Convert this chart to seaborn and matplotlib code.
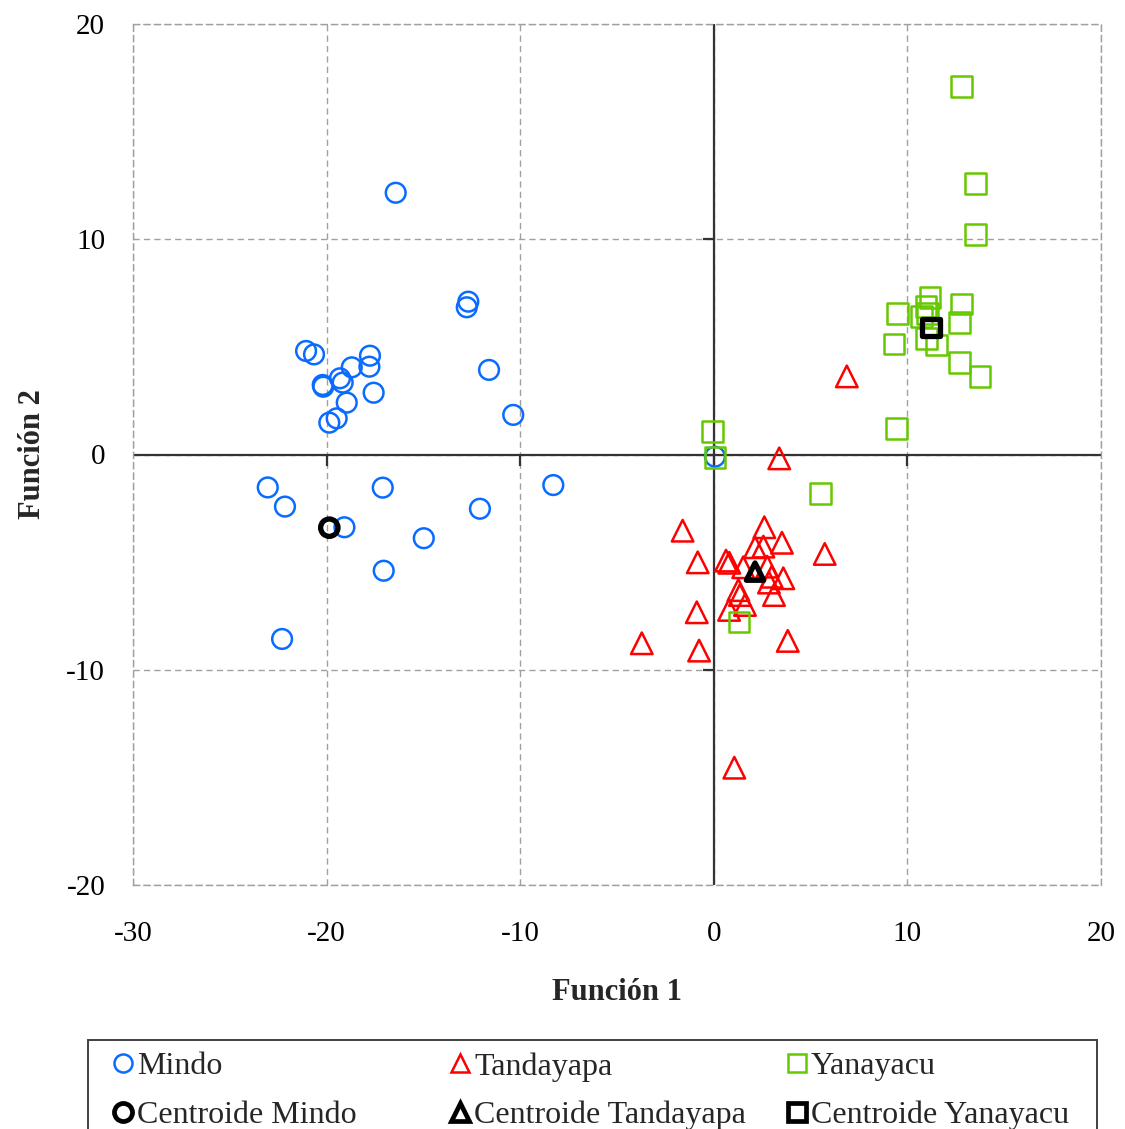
import matplotlib
matplotlib.use("Agg")
import matplotlib.pyplot as plt
from matplotlib.lines import Line2D
from matplotlib.patches import Rectangle
import seaborn as sns
import pandas as pd

# Discriminant scores (Función 1, Función 2) per locality
mindo_f1 = [-16.43, -12.68, -12.76, -21.06, -20.65, -17.76, -17.79, -18.70, -11.61,
            -19.31, -19.17, -20.20, -20.17, -17.57, -18.96, -10.36, -19.48, -19.86,
            -23.04, -22.15, -17.10, -8.29, -12.08, -19.08, -14.98, -17.05, -22.30, 0.06]
mindo_f2 = [12.16, 7.10, 6.84, 4.81, 4.65, 4.59, 4.08, 4.05, 3.93,
            3.54, 3.34, 3.23, 3.15, 2.87, 2.41, 1.84, 1.68, 1.48,
            -1.53, -2.42, -1.54, -1.42, -2.52, -3.38, -3.89, -5.40, -8.57, -0.10]

tanda_f1 = [3.38, -1.61, 2.61, 3.52, 2.13, 2.56, 5.73, -0.83, 0.63, 0.80, 1.52, 2.76,
            2.99, 3.59, 2.85, 3.11, 1.27, 1.35, 1.61, -0.88, 0.79, -3.72, -0.76, 3.82,
            1.06, 6.87]
tanda_f2 = [-0.18, -3.54, -3.38, -4.10, -4.31, -4.28, -4.62, -5.01, -4.93, -5.03, -5.24, -5.21,
            -5.68, -5.75, -5.95, -6.53, -6.30, -6.53, -6.99, -7.33, -7.22, -8.77, -9.11, -8.66,
            -14.55, 3.63]

yana_f1 = [12.80, 13.53, 13.53, 11.17, 10.96, 12.80, 9.50, 10.74, 11.03, 12.67, 9.31,
           11.00, 11.51, 12.67, 13.75, 9.45, -0.08, 0.06, 5.49, 1.30]
yana_f2 = [17.09, 12.60, 10.24, 7.30, 6.87, 6.99, 6.56, 6.43, 6.56, 6.14, 5.13,
           5.40, 5.09, 4.28, 3.62, 1.22, 1.06, -0.13, -1.80, -7.78]

centroid_names = ["Centroide Mindo", "Centroide Tandayapa", "Centroide Yanayacu"]
centroid_f1 = [-19.86, 2.13, 11.22]
centroid_f2 = [-3.40, -5.44, 5.89]

group_names = ["Mindo", "Tandayapa", "Yanayacu"]
group_colors = ["#0A6CFF", "#FF0000", "#66C800"]
group_markers = ["o", "^", "s"]

x_ticks = [-30, -20, -10, 0, 10, 20]
y_ticks = [-20, -10, 0, 10, 20]

sns.set_theme(style="white")
plt.rcParams["font.family"] = ["Liberation Serif", "DejaVu Serif"]

fig = plt.figure(figsize=(11.25, 11.29), dpi=100)
W, H = 1125.0, 1129.0
ax = fig.add_axes([133 / W, 1 - 885 / H, 968 / W, 861 / H])

groups = pd.DataFrame({
    "f1": mindo_f1 + tanda_f1 + yana_f1,
    "f2": mindo_f2 + tanda_f2 + yana_f2,
    "grupo": ["Mindo"] * len(mindo_f1) + ["Tandayapa"] * len(tanda_f1) + ["Yanayacu"] * len(yana_f1),
})
cents = pd.DataFrame({"f1": centroid_f1, "f2": centroid_f2, "grupo": centroid_names})

marker_px = {"o": 14.2, "^": 15.5, "s": 15}
for name, col, mk in zip(group_names, group_colors, group_markers):
    sub = groups[groups["grupo"] == name]
    sns.scatterplot(data=sub, x="f1", y="f2", ax=ax, marker=mk, s=marker_px[mk] ** 2,
                    color=col, facecolor="none", edgecolor=col, linewidth=1.8,
                    legend=False, zorder=3)

for i, mk in enumerate(group_markers):
    sub = cents.iloc[[i]]
    sns.scatterplot(data=sub, x="f1", y="f2", ax=ax, marker=mk, s=12.5 ** 2,
                    color="black", facecolor="none", edgecolor="black", linewidth=3.8,
                    legend=False, zorder=4)

ax.set_xlim(x_ticks[0], x_ticks[-1])
ax.set_ylim(y_ticks[0], y_ticks[-1])
ax.set_xticks(x_ticks)
ax.set_yticks(y_ticks)
ax.set_xticklabels([str(v) for v in x_ticks])
ax.set_yticklabels([str(v) for v in y_ticks])

# dashed grid and frame
ax.grid(True, linestyle=(0, (4.5, 3)), color="#A0A0A0", linewidth=1.0, zorder=0)
for sp in ax.spines.values():
    sp.set_visible(True)
    sp.set_linestyle((0, (4.5, 3)))
    sp.set_color("#A0A0A0")
    sp.set_linewidth(1.0)

# axes through the origin with small tick marks
ax.axhline(0, color="#333333", linewidth=1.6, zorder=2)
ax.axvline(0, color="#333333", linewidth=1.6, zorder=2)
for xv in x_ticks[1:-1]:
    ax.plot([xv], [0], marker=3, markersize=8, color="#333333", markeredgewidth=1.6, zorder=2)
for yv in y_ticks[1:-1]:
    ax.plot([0], [yv], marker=0, markersize=8, color="#333333", markeredgewidth=1.6, zorder=2)

ax.tick_params(axis="both", length=0, labelsize=21, colors="black")
ax.tick_params(axis="x", pad=26)
ax.tick_params(axis="y", pad=20)

ax.set_xlabel("Función 1", fontsize=22, fontweight="bold", labelpad=22)
ax.set_ylabel("Función 2", fontsize=22, fontweight="bold")
ax.yaxis.set_label_coords((47 - 133) / 968, 0.5)

# legend: outer frame plus three aligned columns
fig.patches.append(Rectangle((88 / W, -0.05), (1097 - 88) / W, 0.05 + 1 - 1040 / H,
                             transform=fig.transFigure, fill=False,
                             edgecolor="#404040", linewidth=1.4, zorder=5))

col_left = [113, 450, 787]
for name, col, mk, cname, xl in zip(group_names, group_colors, group_markers,
                                    centroid_names, col_left):
    hs = [Line2D([], [], linestyle="none", marker=mk, markersize=13,
                 markerfacecolor="none", markeredgecolor=col, markeredgewidth=1.8),
          Line2D([], [], linestyle="none", marker=mk, markersize=13,
                 markerfacecolor="none", markeredgecolor="black", markeredgewidth=3.4)]
    fig.legend(hs, [name, cname], ncol=1, loc="upper left",
               bbox_to_anchor=(xl / W, 1 - 1052 / H), bbox_transform=fig.transFigure,
               borderaxespad=0, borderpad=0, frameon=False,
               fontsize=23, handlelength=0.6, handletextpad=0.15, labelspacing=0.6)

fig.savefig("out.png", dpi=100)
